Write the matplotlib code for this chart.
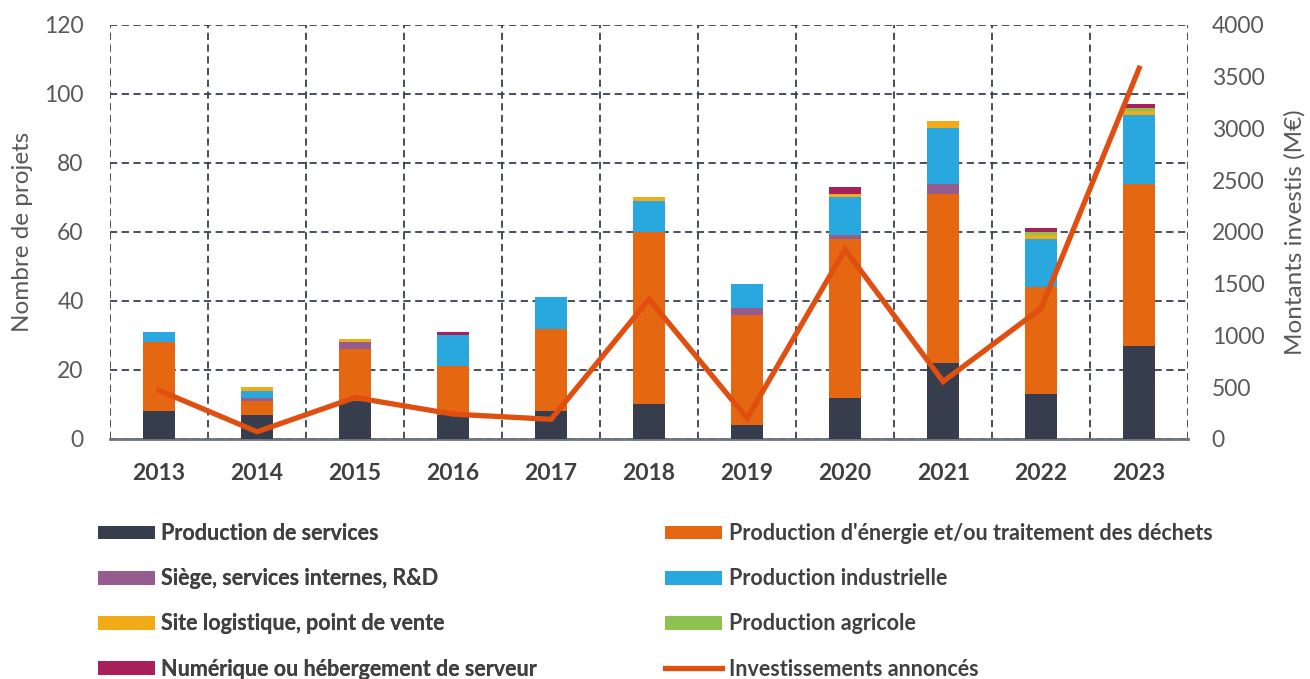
import matplotlib
matplotlib.use("Agg")
import matplotlib.pyplot as plt
import numpy as np
from matplotlib.patches import Patch
from matplotlib.lines import Line2D

plt.rcParams['font.family'] = ['Lato', 'DejaVu Sans']

years = ['2013', '2014', '2015', '2016', '2017', '2018', '2019', '2020', '2021', '2022', '2023']
services = [8, 7, 11, 7, 8, 10, 4, 12, 22, 13, 27]
energie = [20, 4, 15, 14, 24, 50, 32, 46, 49, 31, 47]
siege = [0, 1, 2, 0, 0, 0, 2, 1, 3, 0, 0]
industrielle = [3, 2, 0, 9, 9, 9, 7, 11, 16, 14, 20]
logistique = [0, 1, 1, 0, 0, 1, 0, 1, 2, 1, 1]
agricole = [0, 0, 0, 0, 0, 0, 0, 0, 0, 1, 1]
numerique = [0, 0, 0, 1, 0, 0, 0, 2, 0, 1, 1]
investissements = [470, 70, 400, 240, 190, 1350, 200, 1830, 555, 1262, 3580]

series_names = ["Production de services",
                "Production d'énergie et/ou traitement des déchets",
                "Siège, services internes, R&D",
                "Production industrielle",
                "Site logistique, point de vente",
                "Production agricole",
                "Numérique ou hébergement de serveur"]
line_name = "Investissements annoncés"
colors = ['#363D4D', '#E56712', '#955D8E', '#29A8E0', '#F0AB16', '#8DC150', '#A8205A']
line_color = '#E04E10'

fig = plt.figure(figsize=(13.1, 6.79), dpi=100)
ax = fig.add_axes([0.084, 0.3535, 0.823, 0.61])
x = np.arange(len(years))
width = 0.32
bottom = np.zeros(len(years))
data = [services, energie, siege, industrielle, logistique, agricole, numerique]
for vals, c in zip(data, colors):
    ax.bar(x, vals, width, bottom=bottom, color=c, zorder=3, edgecolor='none')
    bottom += np.array(vals)

ax.set_xlim(-0.5, len(years) - 0.5)
ax.set_ylim(0, 120)
ax.set_yticks(np.arange(0, 121, 20))
ax.set_xticks(x)
ax.set_xticklabels(years, fontsize=16.5, fontweight='bold', color='#404040')
ax.set_xticks(np.arange(-0.5, len(years), 1), minor=True)
ax.tick_params(axis='x', which='both', length=0, pad=17)
ax.tick_params(axis='y', length=0, labelsize=16.5, labelcolor='#595959', pad=19)
gridkw = dict(color='#3A4050', linestyle=(0, (4, 2.5)), linewidth=1.3)
ax.yaxis.grid(True, **gridkw, zorder=1)
ax.xaxis.grid(True, which='minor', **gridkw, zorder=1)
ax.xaxis.grid(False, which='major')
ax.set_axisbelow(True)
for s in ['left', 'right', 'top']:
    ax.spines[s].set_visible(False)
ax.spines['bottom'].set_color('#6E7480')
ax.spines['bottom'].set_linewidth(2)
ax.set_ylabel('Nombre de projets', fontsize=17.5, color='#595959', labelpad=8)

ax2 = ax.twinx()
ax2.plot(x, investissements, color=line_color, linewidth=3.8, zorder=5, solid_joinstyle='miter')
ax2.set_ylim(0, 4000)
ax2.set_yticks(np.arange(0, 4001, 500))
ax2.tick_params(axis='y', length=0, labelsize=16.5, labelcolor='#595959', pad=17)
for s in ['left', 'right', 'top', 'bottom']:
    ax2.spines[s].set_visible(False)
ax2.set_ylabel('Montants investis (M€)', fontsize=17.5, color='#595959', labelpad=14)

handles = [Patch(facecolor=c, edgecolor='none') for c in colors]
line_h = Line2D([0], [0], color=line_color, linewidth=3.8)
col1 = [handles[0], handles[2], handles[4], handles[6]]
lab1 = [series_names[0], series_names[2], series_names[4], series_names[6]]
col2 = [handles[1], handles[3], handles[5], line_h]
lab2 = [series_names[1], series_names[3], series_names[5], line_name]
legkw = dict(frameon=False, handlelength=2.65, handleheight=0.6, handletextpad=0.3,
             labelspacing=1.12, prop={'size': 15.5, 'weight': 'bold'}, labelcolor='#404040')
leg1 = fig.legend(col1, lab1, loc='upper left', bbox_to_anchor=(0.060, 0.258), **legkw)
fig.add_artist(leg1)
leg2 = fig.legend(col2, lab2, loc='upper left', bbox_to_anchor=(0.493, 0.258), **legkw)

fig.savefig('out.png', dpi=100)
